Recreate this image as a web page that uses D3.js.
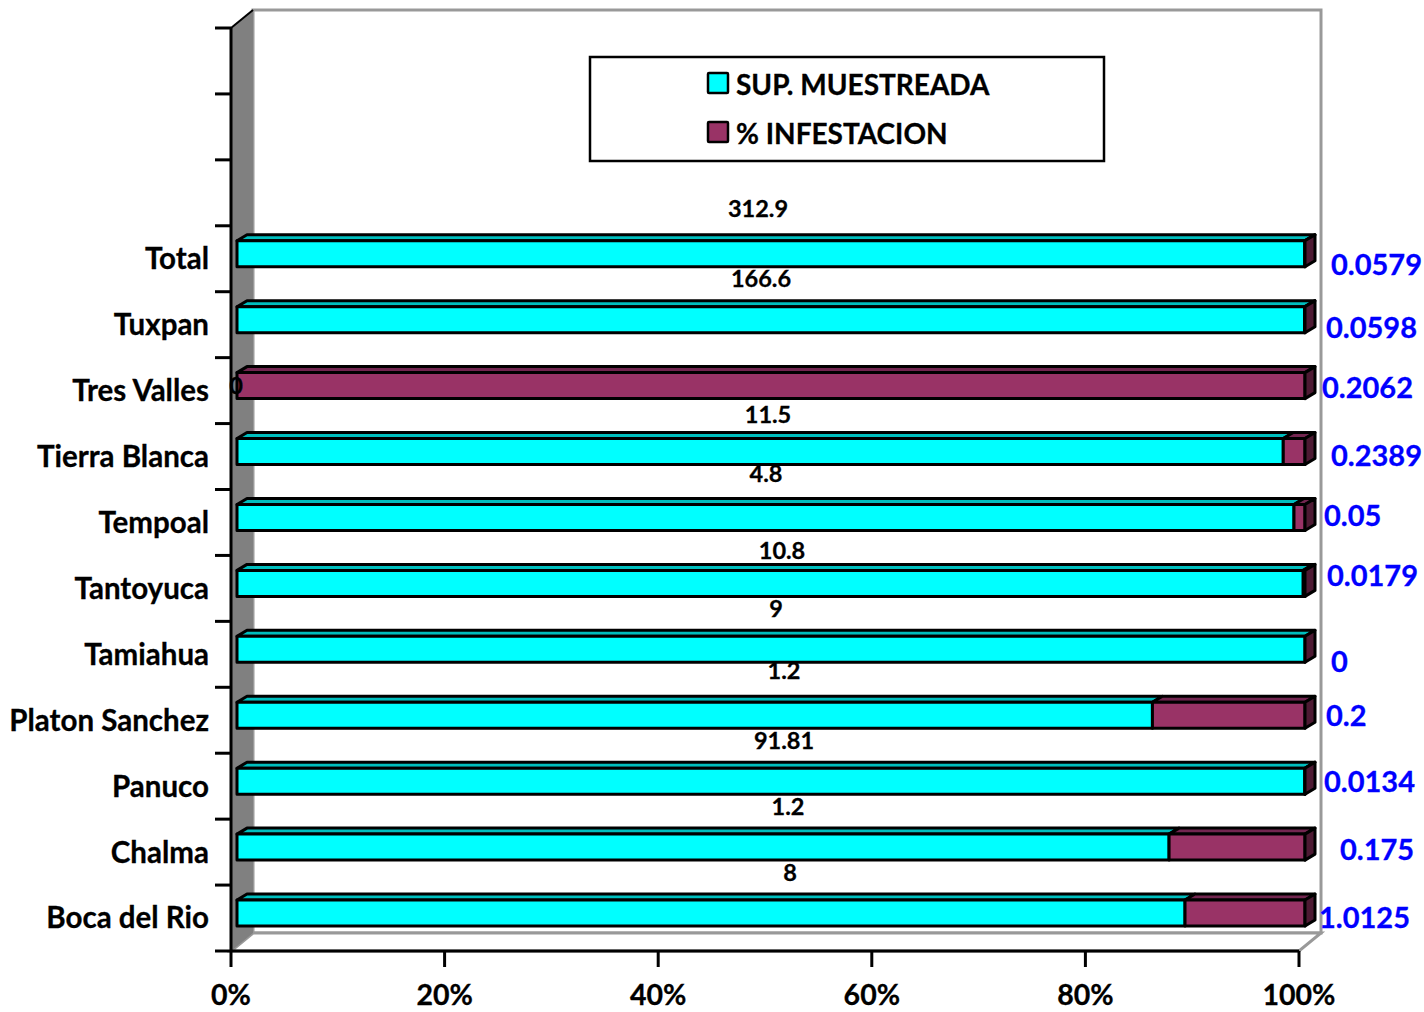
<!DOCTYPE html>
<html>
<head>
<meta charset="utf-8">
<script src="https://cdn.jsdelivr.net/npm/d3@7"></script>
<style>
  body { margin: 0; background: white; }
  text { font-family: Lato, "Open Sans", sans-serif; font-weight: 700; }
</style>
</head>
<body>
<div id="chart"></div>
<script>
// Data, bottom row first. The three empty rows are blank in the original too
var categories = ["Boca del Rio", "Chalma", "Panuco", "Platon Sanchez", "Tamiahua", "Tantoyuca", "Tempoal", "Tierra Blanca", "Tres Valles", "Tuxpan", "Total", "", "", ""]
var supMuestreada = [8, 1.2, 91.81, 1.2, 9, 10.8, 4.8, 11.5, 0, 166.6, 312.9]
var infestacion = [1.0125, 0.175, 0.0134, 0.2, 0, 0.0179, 0.05, 0.2389, 0.2062, 0.0598, 0.0579]
var supText = ["8", "1.2", "91.81", "1.2", "9", "10.8", "4.8", "11.5", "0", "166.6", "312.9"]
var infText = ["1.0125", "0.175", "0.0134", "0.2", "0", "0.0179", "0.05", "0.2389", "0.2062", "0.0598", "0.0579"]
var xTicks = [0, 0.2, 0.4, 0.6, 0.8, 1]
var seriesNames = ["SUP. MUESTREADA", "% INFESTACION"]

// Hand placed data labels in the original, so they get their own layout lists
var supLabelX = [790, 788, 784, 784, 776, 782, 766, 768, 236, 761, 758]
var supLabelY = [873, 807, 741, 671, 609, 551, 474, 415, 386, 279, 209]
var infLabelX = [1319, 1340, 1324, 1326, 1331, 1327, 1324, 1331, 1322, 1326, 1331]
var infLabelY = [918, 850, 782, 716, 662, 576, 516, 456, 388, 328, 265]

var width = 1424
var height = 1012
var plot = { left: 231, right: 1299, top: 28, bottom: 951 }
var wallDx = 22
var wallDy = -18
var barDx = 10
var barDy = -6
var barHeight = 26

var colors = ["#00FFFF", "#993366"]
var topColors = ["#00BFBF", "#732650"]
var sideColor = "#4D1A33"

var svg = d3.select("#chart")
  .append("svg")
  .attr("width", width)
  .attr("height", height)
  .style("display", "block")

var xScale = d3.scaleLinear()
  .domain([0, 1])
  .range([plot.left, plot.right])

var yScale = d3.scaleBand()
  .domain(d3.range(categories.length))
  .range([plot.bottom, plot.top])

// ticks sit between the categories so they need a plain linear scale
var yEdges = d3.scaleLinear()
  .domain([0, categories.length])
  .range([plot.bottom, plot.top])

// Walls and floor
svg.append("polygon")
  .attr("points", [
    [plot.left, plot.top],
    [plot.left + wallDx, plot.top + wallDy],
    [plot.left + wallDx, plot.bottom + wallDy],
    [plot.left, plot.bottom]
  ].join(" "))
  .attr("fill", "#808080")

svg.append("rect")
  .attr("x", plot.left + wallDx)
  .attr("y", plot.top + wallDy)
  .attr("width", plot.right - plot.left)
  .attr("height", plot.bottom - plot.top)
  .attr("fill", "white")
  .attr("stroke", "#999999")
  .attr("stroke-width", 3)

svg.append("polygon")
  .attr("points", [
    [plot.left, plot.bottom],
    [plot.left + wallDx, plot.bottom + wallDy],
    [plot.right + wallDx, plot.bottom + wallDy],
    [plot.right, plot.bottom]
  ].join(" "))
  .attr("fill", "white")
  .attr("stroke", "#999999")
  .attr("stroke-width", 3)

svg.append("polygon")
  .attr("points", [
    [plot.left, plot.bottom],
    [plot.left + wallDx, plot.bottom + wallDy],
    [plot.left + wallDx, plot.top + wallDy],
    [plot.left, plot.top]
  ].join(" "))
  .attr("fill", "#808080")

svg.append("line")
  .attr("x1", plot.left)
  .attr("y1", plot.top)
  .attr("x2", plot.left + wallDx)
  .attr("y2", plot.top + wallDy)
  .attr("stroke", "black")
  .attr("stroke-width", 2)

// Stacked 100% bars
var rows = supMuestreada.map((d, i) => ({ index: i, sup: d, inf: infestacion[i] }))

var series = d3.stack()
  .keys(["sup", "inf"])
  .offset(d3.stackOffsetExpand)(rows)

var barsG = svg.append("g")
  .attr("class", "bars")
  .attr("stroke", "black")
  .attr("stroke-width", 3)
  .attr("stroke-linejoin", "round")

function drawSegment(g, d, k) {
  var x0 = xScale(d[0]) + 6
  var x1 = xScale(d[1]) + 6
  if (x1 - x0 < 0.01) return
  var y0 = yScale(d.data.index) + yScale.bandwidth() / 2 - 5 - barHeight / 2

  g.append("polygon")
    .attr("points", [
      [x0, y0],
      [x0 + barDx, y0 + barDy],
      [x1 + barDx, y0 + barDy],
      [x1, y0]
    ].join(" "))
    .attr("fill", topColors[k])

  g.append("rect")
    .attr("x", x0)
    .attr("y", y0)
    .attr("width", x1 - x0)
    .attr("height", barHeight)
    .attr("fill", colors[k])

  // end cap only shows on the last piece that reaches 100%
  if (d[1] > 0.9999) {
    g.append("polygon")
      .attr("points", [
        [x1, y0],
        [x1 + barDx, y0 + barDy],
        [x1 + barDx, y0 + barDy + barHeight],
        [x1, y0 + barHeight]
      ].join(" "))
      .attr("fill", sideColor)
  }
}

rows.forEach((row, i) => {
  var g = barsG.append("g").attr("class", "row-" + i)
  series.forEach((s, k) => drawSegment(g, s[i], k))
})

// Y axis: ticks
svg.append("g")
  .attr("class", "y-axis")
  .attr("transform", `translate(${plot.left},0)`)
  .call(d3.axisLeft(yEdges).offset(0).ticks(categories.length).tickSize(16).tickSizeOuter(0).tickFormat(""))
  .call(g => g.selectAll("line, path").attr("stroke", "black").attr("stroke-width", 3))

// Y axis: category names
svg.append("g")
  .attr("class", "y-labels")
  .attr("transform", `translate(${plot.left},1)`)
  .call(d3.axisLeft(yScale).tickSize(0).tickPadding(22).tickFormat(i => categories[i]))
  .call(g => g.select(".domain").remove())
  .selectAll("text")
  .style("font-family", "Lato")
  .style("font-weight", 700)
  .style("font-size", "29.5px")
  .style("stroke", "black")
  .style("stroke-width", "0.3px")
  .attr("fill", "black")

// X axis
svg.append("g")
  .attr("class", "x-axis")
  .attr("transform", `translate(0,${plot.bottom})`)
  .call(d3.axisBottom(xScale).offset(0).tickValues(xTicks).tickSize(16).tickSizeOuter(0).tickPadding(18).tickFormat(d3.format(".0%")))
  .call(g => g.selectAll("line, path").attr("stroke", "black").attr("stroke-width", 3))
  .selectAll("text")
  .style("font-family", "Lato")
  .style("font-weight", 700)
  .style("font-size", "28.5px")
  .style("stroke", "black")
  .style("stroke-width", "0.3px")
  .attr("fill", "black")

// Data labels
svg.append("g")
  .selectAll("text")
  .data(supText)
  .join("text")
  .attr("x", (d, i) => supLabelX[i])
  .attr("y", (d, i) => supLabelY[i])
  .attr("dy", "0.35em")
  .attr("text-anchor", "middle")
  .style("font-size", "23.5px")
  .style("stroke", "black")
  .style("stroke-width", "0.3px")
  .attr("fill", "black")
  .text(d => d)

svg.append("g")
  .selectAll("text")
  .data(infText)
  .join("text")
  .attr("x", (d, i) => infLabelX[i])
  .attr("y", (d, i) => infLabelY[i])
  .attr("dy", "0.35em")
  .style("font-size", "29px")
  .style("stroke", "#0000FF")
  .style("stroke-width", "0.3px")
  .attr("fill", "#0000FF")
  .text(d => d)

// Legend
var legend = svg.append("g").attr("class", "legend")

legend.append("rect")
  .attr("x", 590)
  .attr("y", 57)
  .attr("width", 514)
  .attr("height", 104)
  .attr("fill", "white")
  .attr("stroke", "black")
  .attr("stroke-width", 2.5)

seriesNames.forEach((name, i) => {
  legend.append("rect")
    .attr("x", 708)
    .attr("y", 73 + i * 49)
    .attr("width", 20)
    .attr("height", 20)
    .attr("rx", 1)
    .attr("fill", colors[i])
    .attr("stroke", "black")
    .attr("stroke-width", 2.5)

  legend.append("text")
    .attr("x", 736)
    .attr("y", 85 + i * 49)
    .attr("dy", "0.35em")
    .style("font-size", "28px")
    .style("stroke", "black")
    .style("stroke-width", "0.3px")
    .attr("fill", "black")
    .text(name)
})
</script>
</body>
</html>
